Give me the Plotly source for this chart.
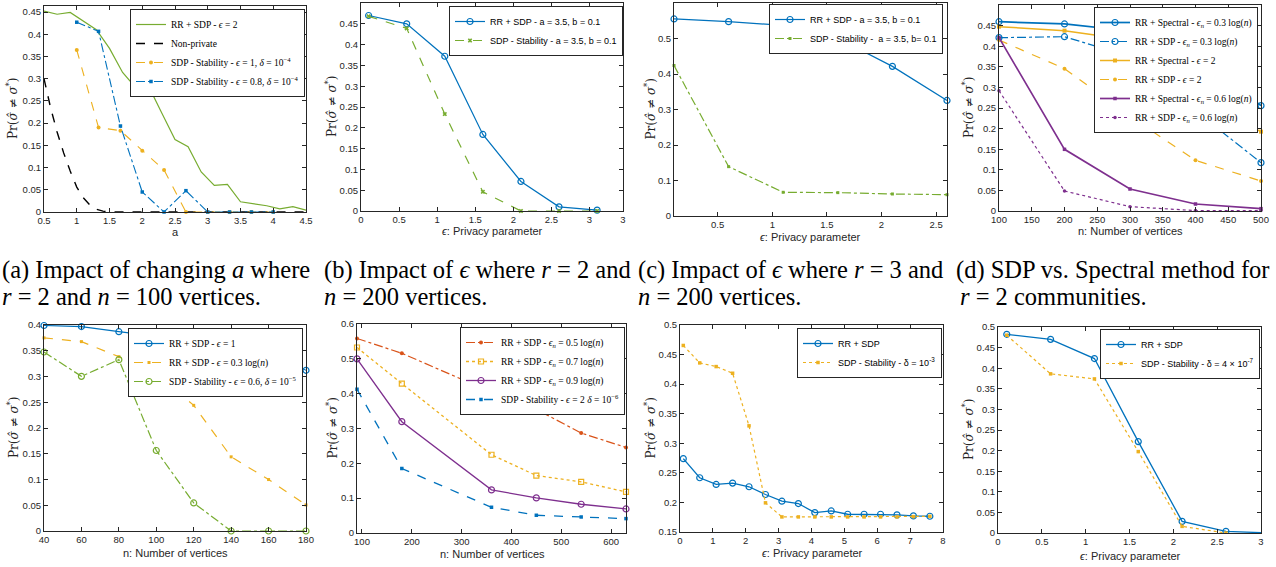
import plotly.graph_objects as go

W, H = 1276, 567

BLUE = "#0072BD"
ORANGE = "#D95319"
YELLOW = "#EDB120"
PURPLE = "#7E2F8E"
GREEN = "#77AC30"
AXC = "#262626"

# ---------------- data ----------------
# (a) impact of a
a_green_x = [0.5, 0.7, 0.9, 1.1, 1.3, 1.5, 1.7, 1.9, 2.1, 2.3, 2.5, 2.7, 2.9, 3.1, 3.3, 3.5, 3.7, 3.9, 4.1, 4.3, 4.5]
a_green_y = [0.452, 0.445, 0.449, 0.430, 0.410, 0.368, 0.314, 0.280, 0.282, 0.222, 0.163, 0.147, 0.090, 0.060,
             0.062, 0.023, 0.018, 0.014, 0.007, 0.012, 0.004]
a_np_x = [0.5, 0.6, 0.7, 0.8, 0.9, 1.0, 1.1, 1.2, 1.3, 1.4, 1.5, 2.0, 2.5, 3.0, 3.5, 4.0, 4.5]
a_np_y = [0.300, 0.235, 0.180, 0.133, 0.092, 0.056, 0.032, 0.016, 0.006, 0.002, 0.0, 0.0, 0.0, 0.0, 0.0, 0.0, 0.0]
a_stab_x = [1.0, 1.333, 1.667, 2.0, 2.333, 2.667, 3.0, 3.333, 3.667, 4.0]
a_stab1_y = [0.3645, 0.190, 0.183, 0.138, 0.0945, 0.0, 0.0, 0.0, 0.0, 0.0]
a_stab08_y = [0.427, 0.4065, 0.1935, 0.045, 0.0, 0.048, 0.0, 0.0, 0.0, 0.0]

# (b) impact of eps, r=2
b_x = [0.1, 0.6, 1.1, 1.6, 2.1, 2.6, 3.1]
b_rr = [0.470, 0.450, 0.372, 0.184, 0.071, 0.010, 0.002]
b_stab = [0.468, 0.439, 0.233, 0.046, 0.0, 0.0, 0.0]
b_tickvals = [0, 0.5, 1, 1.5, 2, 2.5, 3, 3.44]
b_ticktext = ["0", "0.5", "1", "1.5", "2", "2.5", "3", "3"]

# (c) impact of eps, r=3
c_x = [0.1, 0.6, 1.1, 1.6, 2.1, 2.6]
c_rr = [0.555, 0.5475, 0.537, 0.5005, 0.4215, 0.3255]
c_stab = [0.424, 0.139, 0.0668, 0.0658, 0.062, 0.060]

# (d) SDP vs spectral
d_x = [100, 200, 300, 400, 500]
d_spec03 = [0.4595, 0.454, 0.437, 0.374, 0.2557]
d_sdp03 = [0.4207, 0.423, 0.375, 0.2427, 0.1173]
d_spec2 = [0.4474, 0.4377, 0.415, 0.266, 0.1926]
d_sdp2 = [0.415, 0.3455, 0.230, 0.123, 0.0728]
d_spec06 = [0.4207, 0.1497, 0.0534, 0.017, 0.0057]
d_sdp06 = [0.292, 0.0485, 0.0105, 0.001, 0.001]

# (e)
e_x = [40, 60, 80, 100, 120, 140, 160, 180]
e_rr1 = [0.399, 0.397, 0.387, 0.378, 0.370, 0.360, 0.350, 0.312]
e_rr03 = [0.375, 0.3677, 0.3385, 0.304, 0.244, 0.144, 0.0999, 0.0506]
e_stab = [0.3476, 0.3003, 0.3327, 0.1563, 0.0545, 0.0, 0.0, 0.0]

# (f)
f_x = [90, 180, 360, 450, 540, 630]
f_05 = [0.5585, 0.516, 0.404, 0.355, 0.287, 0.2457]
f_07 = [0.5326, 0.429, 0.2246, 0.165, 0.1468, 0.118]
f_09 = [0.500, 0.3196, 0.1238, 0.1008, 0.0825, 0.069]
f_stab = [0.4127, 0.1852, 0.0739, 0.0509, 0.046, 0.0413]

# (g)
g_x = [0.1, 0.6, 1.1, 1.6, 2.1, 2.6, 3.1, 3.6, 4.1, 4.6, 5.1, 5.6, 6.1, 6.6, 7.1, 7.6]
g_rr = [0.274, 0.2417, 0.2304, 0.2327, 0.2265, 0.2134, 0.2021, 0.1981, 0.1828, 0.1856, 0.180, 0.180, 0.180,
        0.1789, 0.1772, 0.1766]
g_stab = [0.4654, 0.4359, 0.4297, 0.4184, 0.3295, 0.1993, 0.1755, 0.1755, 0.1755, 0.1755, 0.1755, 0.1755,
          0.1755, 0.1755, 0.1760, 0.1765]

# (h)
h_x = [0.1, 0.6, 1.1, 1.6, 2.1, 2.6, 3.1]
h_rr = [0.4823, 0.470, 0.4234, 0.2218, 0.0282, 0.004, 0.0]
h_x_stab = [0.1, 0.6, 1.1, 1.6, 2.1, 2.6]
h_stab = [0.480, 0.3863, 0.374, 0.1976, 0.0161, 0.0]

captions_top = [
    ("(a) Impact of changing <i>a</i> where", "<i>r</i> = 2 and <i>n</i> = 100 vertices."),
    ("(b) Impact of <i>ϵ</i> where <i>r</i> = 2 and", "<i>n</i> = 200 vertices."),
    ("(c) Impact of <i>ϵ</i> where <i>r</i> = 3 and", "<i>n</i> = 200 vertices."),
    ("(d) SDP vs. Spectral method for", "<i>r</i> = 2 communities."),
]

# ---------------- layout geometry (pixels) ----------------
# (left, right, top, bottom) of each plotting area
boxes = [
    (44, 306, 6, 212),
    (361, 623, 3, 211),
    (674, 947, 3, 216),
    (999, 1261, 5, 211),
    (44, 306, 325, 531),
    (357, 626, 324, 533),
    (680, 943, 325, 532),
    (998, 1261, 327, 533),
]

fig = go.Figure()

SERIF = "Liberation Serif"
SANS = "Liberation Sans"


def add(panel, x, y, name, color, dash="solid", width=1.1, symbol=None, msize=5, clip=False):
    idx = panel + 1
    xa = "x" if idx == 1 else f"x{idx}"
    ya = "y" if idx == 1 else f"y{idx}"
    lg = "legend" if idx == 1 else f"legend{idx}"
    mode = "lines" if symbol is None else "lines+markers"
    tr = dict(x=x, y=y, name=name, mode=mode, xaxis=xa, yaxis=ya, legend=lg,
              line=dict(color=color, dash=dash, width=width), cliponaxis=clip)
    if symbol is not None:
        open_ = symbol.endswith("-open")
        tr["marker"] = dict(symbol=symbol, size=msize, color=color,
                            line=dict(color=color, width=1.2 if open_ else 0))
    fig.add_trace(go.Scatter(**tr))


E = "<i>ϵ</i>"
EN = "<i>ϵ<sub>n</sub></i>"
D = "<i>δ</i>"

# (a)
add(0, a_green_x, a_green_y, f"RR + SDP - {E} = 2", GREEN, width=1.2)
add(0, a_np_x, a_np_y, "Non-private", "black", dash="dash", width=1.4)
add(0, a_stab_x, a_stab1_y, f"SDP - Stability - {E} = 1, {D} = 10<sup>−4</sup>", YELLOW, dash="dash",
    symbol="circle", msize=4)
add(0, a_stab_x, a_stab08_y, f"SDP - Stability - {E} = 0.8, {D} = 10<sup>−4</sup>", BLUE, dash="dashdot",
    symbol="square", msize=3.5)
# (b)
add(1, b_x, b_rr, "RR + SDP - a = 3.5, b = 0.1", BLUE, width=1.2, symbol="circle-open", msize=6)
add(1, b_x, b_stab, "SDP - Stability - a = 3.5, b = 0.1", GREEN, dash="dash", width=1.2, symbol="x", msize=4)
# (c)
add(2, c_x, c_rr, "RR + SDP - a = 3.5, b = 0.1", BLUE, width=1.2, symbol="circle-open", msize=6)
add(2, c_x, c_stab, "SDP - Stability -  a = 3.5, b= 0.1", GREEN, dash="dashdot", width=1.2, symbol="square",
    msize=3)
# (d)
add(3, d_x, d_spec03, f"RR + Spectral - {EN} = 0.3 log(<i>n</i>)", BLUE, width=1.7, symbol="circle-open", msize=6)
add(3, d_x, d_sdp03, f"RR + SDP - {EN} = 0.3 log(<i>n</i>)", BLUE, dash="dashdot", width=1.2, symbol="circle-open",
    msize=6)
add(3, d_x, d_spec2, f"RR + Spectral - {E} = 2", YELLOW, width=1.5, symbol="square", msize=4)
add(3, d_x, d_sdp2, f"RR + SDP - {E} = 2", YELLOW, dash="dash", width=1.2, symbol="circle", msize=4)
add(3, d_x, d_spec06, f"RR + Spectral - {EN} = 0.6 log(<i>n</i>)", PURPLE, width=1.7, symbol="square", msize=3.5)
add(3, d_x, d_sdp06, f"RR + SDP - {EN} = 0.6 log(<i>n</i>)", PURPLE, dash="dot", width=1.2, symbol="circle", msize=3.5)
# (e)
add(4, e_x, e_rr1, f"RR + SDP - {E} = 1", BLUE, width=1.2, symbol="circle-open", msize=6)
add(4, e_x, e_rr03, f"RR + SDP - {E} = 0.3 log(<i>n</i>)", YELLOW, dash="dash", width=1.2, symbol="square", msize=3)
add(4, e_x, e_stab, f"SDP - Stability - {E} = 0.6, {D} = 10<sup>−5</sup>", GREEN, dash="dashdot", width=1.2,
    symbol="circle-open", msize=6)
# (f)
add(5, f_x, f_05, f"RR + SDP - {EN} = 0.5 log(<i>n</i>)", ORANGE, dash="dashdot", width=1.2, symbol="circle", msize=4)
add(5, f_x, f_07, f"RR + SDP - {EN} = 0.7 log(<i>n</i>)", YELLOW, dash="dot", width=1.3, symbol="square-open",
    msize=5)
add(5, f_x, f_09, f"RR + SDP - {EN} = 0.9 log(<i>n</i>)", PURPLE, width=1.3, symbol="circle-open", msize=6)
add(5, f_x, f_stab, f"SDP - Stability - {E} = 2 {D} = 10<sup>−6</sup>", BLUE, dash="dash", width=1.3,
    symbol="square", msize=3.5)
# (g)
add(6, g_x, g_rr, "RR + SDP", BLUE, width=1.3, symbol="circle-open", msize=6)
add(6, g_x, g_stab, "SDP - Stability - δ = 10<sup>-3</sup>", YELLOW, dash="dot", width=1.2, symbol="square",
    msize=3.5)
# (h)
add(7, h_x, h_rr, "RR + SDP", BLUE, width=1.3, symbol="circle-open", msize=6, clip=True)
add(7, h_x_stab, h_stab, "SDP - Stability - δ = 4 × 10<sup>-7</sup>", YELLOW, dash="dot", width=1.2,
    symbol="square", msize=3.5, clip=True)

# ---------------- axes ----------------
xranges = [[0.5, 4.5], [0, 3.44], [0.1, 2.6], [100, 500], [40, 180], [90, 630], [0, 8], [0, 3]]
xdticks = [0.5, None, 0.5, 50, 20, 100, 1, 0.5]
yranges = [[0, 0.4635], [0, 0.5], [0, 0.6], [0, 0.5], [0, 0.4], [0, 0.6], [0.15, 0.5], [0, 0.5]]
ydticks = [0.05, 0.05, 0.1, 0.05, 0.05, 0.1, 0.05, 0.05]

common = dict(showline=True, linecolor=AXC, linewidth=1, mirror="ticks", ticks="inside", ticklen=4,
              tickcolor=AXC, tickwidth=1, showgrid=False, zeroline=False, automargin=False,
              tickfont=dict(family=SANS, size=9.5, color=AXC))

for i, (l, r, t, b) in enumerate(boxes):
    idx = i + 1
    xk = "xaxis" if idx == 1 else f"xaxis{idx}"
    yk = "yaxis" if idx == 1 else f"yaxis{idx}"
    xa = dict(common, domain=[l / W, r / W], range=xranges[i], anchor="y" if idx == 1 else f"y{idx}")
    if xdticks[i] is None:
        xa.update(tickmode="array", tickvals=b_tickvals, ticktext=b_ticktext)
    else:
        xa.update(tick0=0, dtick=xdticks[i])
    ya = dict(common, domain=[1 - b / H, 1 - t / H], range=yranges[i], tick0=0, dtick=ydticks[i],
              anchor="x" if idx == 1 else f"x{idx}")
    fig.layout[xk] = xa
    fig.layout[yk] = ya

# ---------------- legends ----------------
legend_pos = [(305, 9, SERIF, 9.5), (623, 6, SANS, 9), (943, 4, SANS, 9), (1258, 7, SERIF, 9.5),
              (303, 328, SERIF, 9.5), (625, 327, SERIF, 9.5), (942, 328, SANS, 9), (1260, 329, SANS, 9)]
for i, (px, py, fam, fs) in enumerate(legend_pos):
    key = "legend" if i == 0 else f"legend{i + 1}"
    fig.layout[key] = dict(x=px / W, y=1 - py / H, xanchor="right", yanchor="top", bgcolor="white",
                           bordercolor=AXC, borderwidth=1, font=dict(family=fam, size=fs, color="black"),
                           tracegroupgap=0, itemwidth=30)

# ---------------- axis titles & captions ----------------
ann = []
ylabel = "Pr(<i>σ̂</i> ≠ <i>σ</i><sup>*</sup>)"
ytitle_x = [12, 331, 649, 968, 13, 331, 649, 968]
xtitles = ["a", "<i>ϵ</i>: Privacy parameter", "<i>ϵ</i>: Privacy parameter", "n: Number of vertices",
           "n: Number of vertices", "n: Number of vertices", "<i>ϵ</i>: Privacy parameter",
           "<i>ϵ</i>: Privacy parameter"]
xtitle_pos = [(175, 232), (492, 231), (810, 237), (1130, 231), (175, 553), (492, 554), (812, 553), (1130, 556)]
for i, (l, r, t, b) in enumerate(boxes):
    ann.append(dict(x=ytitle_x[i] / W, y=1 - (t + b) / 2 / H, xref="paper", yref="paper", text=ylabel,
                    textangle=-90, showarrow=False, xanchor="center", yanchor="middle",
                    font=dict(family="DejaVu Serif", size=12, color=AXC)))
    ann.append(dict(x=xtitle_pos[i][0] / W, y=1 - xtitle_pos[i][1] / H, xref="paper", yref="paper",
                    text=xtitles[i], showarrow=False, xanchor="center", yanchor="middle",
                    font=dict(family=SANS, size=11, color=AXC)))

cap_x1 = [0, 322, 636, 954]
cap_x2 = [0, 322, 636, 958]
for i, (l1, l2) in enumerate(captions_top):
    ann.append(dict(x=cap_x1[i] / W, y=1 - 270 / H, xref="paper", yref="paper", text=l1, showarrow=False,
                    xanchor="left", yanchor="middle", font=dict(family=SERIF, size=24.5, color="black")))
    ann.append(dict(x=cap_x2[i] / W, y=1 - 296 / H, xref="paper", yref="paper", text=l2, showarrow=False,
                    xanchor="left", yanchor="middle", font=dict(family=SERIF, size=24.5, color="black")))

fig.update_layout(template="none", width=W, height=H, margin=dict(l=0, r=0, t=0, b=0, pad=0),
                  autosize=False, plot_bgcolor="white", paper_bgcolor="white", annotations=ann,
                  showlegend=True, font=dict(family=SANS, color=AXC))

fig.write_html("out.html", config={"displayModeBar": False},
               post_script="document.body.style.margin='0';document.body.style.padding='0';"
                           "document.body.style.overflow='hidden';")
